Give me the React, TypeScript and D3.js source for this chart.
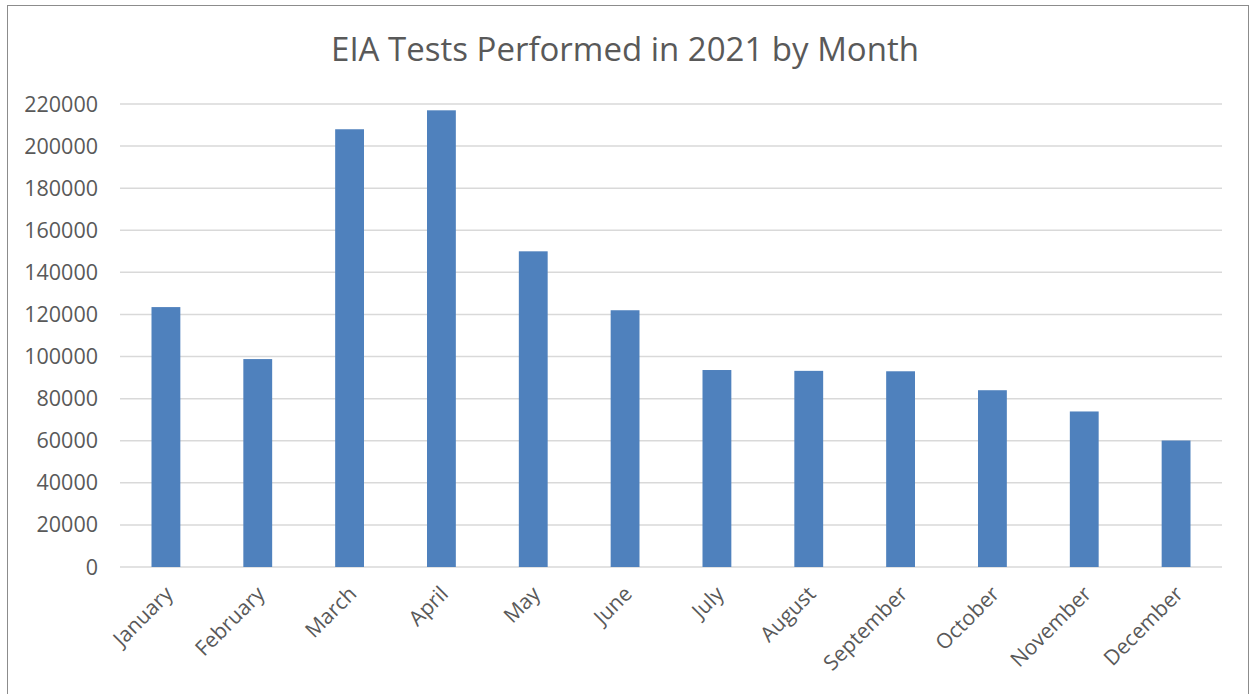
import { useEffect, useRef } from 'react';
import * as d3 from 'd3';

const MONTHS = [
  'January', 'February', 'March', 'April', 'May', 'June',
  'July', 'August', 'September', 'October', 'November', 'December',
];
const TESTS = [123500, 98800, 208000, 217000, 150000, 122000, 93600, 93200, 93000, 84000, 73900, 60100];
const Y_TICKS = [0, 20000, 40000, 60000, 80000, 100000, 120000, 140000, 160000, 180000, 200000, 220000];

const W = 1250;
const H = 694;

export default function App() {
  const svgRef = useRef<SVGSVGElement>(null);

  useEffect(() => {
    if (!svgRef.current) return;
    const svg = d3.select(svgRef.current);
    svg.selectAll('*').remove();

    const font = '"Open Sans", "Liberation Sans", sans-serif';
    const margin = { top: 104, right: 28, bottom: 127, left: 120 };
    const innerW = W - margin.left - margin.right;
    const innerH = H - margin.top - margin.bottom;

    // chart frame
    svg.append('rect')
      .attr('x', 7.5).attr('y', 5.5)
      .attr('width', W - 9).attr('height', H)
      .attr('fill', '#fff')
      .attr('stroke', '#8c8c8c')
      .attr('stroke-width', 1);

    svg.append('text')
      .attr('x', 625).attr('y', 61)
      .attr('text-anchor', 'middle')
      .style('font-family', font)
      .style('font-size', '33px')
      .style('fill', '#595959')
      .text('EIA Tests Performed in 2021 by Month');

    const x = d3.scaleBand<string>()
      .domain(MONTHS)
      .range([0, innerW])
      .paddingInner(0.686)
      .paddingOuter(0.343);

    const y = d3.scaleLinear().domain([0, 220000]).range([innerH, 0]);

    const g = svg.append('g').attr('transform', `translate(${margin.left},${margin.top})`);

    // gridlines
    g.selectAll('.grid')
      .data(Y_TICKS)
      .enter()
      .append('line')
      .attr('x1', 0).attr('x2', innerW)
      .attr('y1', (d) => y(d)).attr('y2', (d) => y(d))
      .attr('stroke', '#d9d9d9')
      .attr('stroke-width', 1.5);

    // y labels
    g.selectAll('.ylab')
      .data(Y_TICKS)
      .enter()
      .append('text')
      .attr('x', -22)
      .attr('y', (d) => y(d))
      .attr('dy', '0.35em')
      .attr('text-anchor', 'end')
      .style('font-family', font)
      .style('font-size', '21.5px')
      .style('fill', '#595959')
      .text((d) => String(d));

    // bars
    g.selectAll('.bar')
      .data(TESTS)
      .enter()
      .append('rect')
      .attr('x', (_, i) => x(MONTHS[i]) ?? 0)
      .attr('y', (d) => y(d))
      .attr('width', x.bandwidth())
      .attr('height', (d) => innerH - y(d))
      .attr('fill', '#4f81bd');

    // x labels
    g.selectAll('.xlab')
      .data(MONTHS)
      .enter()
      .append('text')
      .attr('transform', (d) => {
        const cx = (x(d) ?? 0) + x.bandwidth() / 2 + 3;
        return `translate(${cx},${innerH + 23}) rotate(-45)`;
      })
      .attr('text-anchor', 'end')
      .attr('dy', '0.35em')
      .style('font-family', font)
      .style('font-size', '21px')
      .style('fill', '#595959')
      .text((d) => d);
  }, []);

  return (
    <svg
      ref={svgRef}
      width={W}
      height={H}
      style={{ position: 'absolute', left: 0, top: 0, display: 'block', background: '#fff' }}
    />
  );
}
